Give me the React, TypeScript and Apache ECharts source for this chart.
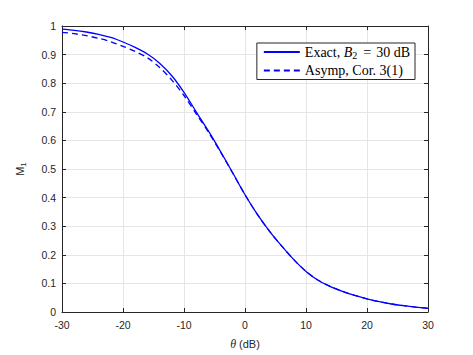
import React, { useEffect, useRef } from "react";
import * as echarts from "echarts";

const thetaDb = [-30, -28, -26, -24, -22, -20, -18, -16, -14, -12, -10, -8, -6, -4, -2, 0, 2, 4, 6, 8, 10, 12, 14, 16, 18, 20, 22, 24, 26, 28, 30];
const exactM1 = [0.989, 0.985, 0.979, 0.971, 0.96, 0.944, 0.925, 0.902, 0.87, 0.826, 0.768, 0.7, 0.633, 0.561, 0.486, 0.41, 0.342, 0.283, 0.231, 0.183, 0.142, 0.111, 0.089, 0.072, 0.058, 0.046, 0.036, 0.028, 0.022, 0.017, 0.013];
const asympM1 = [0.978, 0.973, 0.966, 0.957, 0.945, 0.929, 0.911, 0.889, 0.855, 0.811, 0.757, 0.693, 0.629, 0.559, 0.485, 0.41, 0.342, 0.283, 0.231, 0.183, 0.142, 0.111, 0.089, 0.072, 0.058, 0.046, 0.036, 0.028, 0.022, 0.017, 0.013];
const seriesNames = ["Exact, B2 = 30 dB", "Asymp, Cor. 3(1)"];

const AXIS = "#262626";
const GRID = "#e5e5e5";
const BLUE = "#0000ff";

export default function App() {
  const ref = useRef<HTMLDivElement>(null);
  useEffect(() => {
    if (!ref.current) return;
    const chart = echarts.init(ref.current, undefined, { renderer: "svg" });
    const zip = (ys: number[]) => thetaDb.map((x, i) => [x, ys[i]]);
    const frameAxis = {
      axisLine: { show: true, onZero: false, lineStyle: { color: AXIS, width: 1 } },
      axisTick: { show: true, inside: true, length: 4, lineStyle: { color: AXIS } },
    };
    chart.setOption({
      animation: false,
      backgroundColor: "#ffffff",
      grid: { left: 62, right: 45, top: 26, bottom: 39, containLabel: false },
      legend: {
        orient: "vertical",
        right: 58,
        top: 43,
        backgroundColor: "#ffffff",
        borderColor: AXIS,
        borderWidth: 1,
        borderRadius: 0,
        padding: [2, 5, 2, 6],
        itemGap: 3,
        itemWidth: 36,
        itemHeight: 14,
        itemStyle: { opacity: 0 },
        data: seriesNames,
        formatter: (name: string) =>
          name === seriesNames[0]
            ? "{n|Exact, }{i|B}{s|2}{e|=}{n|30 dB}"
            : "{n|Asymp, Cor. 3(1)}",
        textStyle: {
          fontFamily: "Liberation Serif",
          fontSize: 14,
          color: "#000",
          rich: {
            n: { fontFamily: "Liberation Serif", fontSize: 14, color: "#000" },
            e: { fontFamily: "Liberation Serif", fontSize: 14, color: "#000", padding: [0, 5, 0, 6] },
            i: { fontFamily: "Liberation Serif", fontSize: 14, fontStyle: "italic", color: "#000" },
            s: { fontFamily: "Liberation Serif", fontSize: 10, color: "#000", padding: [7, 0, 0, 0] },
          },
        },
      },
      xAxis: [
        {
          type: "value",
          min: -30,
          max: 30,
          interval: 10,
          position: "bottom",
          name: "{t|θ} (dB)",
          nameLocation: "middle",
          nameGap: 26,
          nameTextStyle: {
            fontFamily: "Liberation Sans",
            fontSize: 11,
            color: AXIS,
            rich: {
              t: { fontFamily: "Liberation Serif", fontStyle: "italic", fontSize: 12, color: AXIS },
            },
          },
          ...frameAxis,
          axisLabel: { fontFamily: "Liberation Sans", fontSize: 10.5, color: AXIS, margin: 7 },
          splitLine: { show: true, lineStyle: { color: GRID, width: 1 } },
        },
        {
          type: "value",
          min: -30,
          max: 30,
          interval: 10,
          position: "top",
          ...frameAxis,
          axisLabel: { show: false },
          splitLine: { show: false },
        },
      ],
      yAxis: [
        {
          type: "value",
          min: 0,
          max: 1,
          interval: 0.1,
          position: "left",
          name: "{m|M}{s|1}",
          nameLocation: "middle",
          nameGap: 35,
          nameRotate: 90,
          nameTextStyle: {
            fontFamily: "Liberation Sans",
            fontSize: 11,
            color: AXIS,
            rich: {
              m: { fontFamily: "Liberation Sans", fontSize: 11, color: AXIS },
              s: { fontFamily: "Liberation Sans", fontSize: 8, color: AXIS, padding: [6, 0, 0, 0] },
            },
          },
          ...frameAxis,
          axisLabel: {
            fontFamily: "Liberation Sans",
            fontSize: 10.5,
            color: AXIS,
            margin: 6,
            formatter: (v: number) => String(Math.round(v * 10) / 10),
          },
          splitLine: { show: true, lineStyle: { color: GRID, width: 1 } },
        },
        {
          type: "value",
          min: 0,
          max: 1,
          interval: 0.1,
          position: "right",
          ...frameAxis,
          axisLabel: { show: false },
          splitLine: { show: false },
        },
      ],
      series: [
        {
          name: seriesNames[0],
          type: "line",
          xAxisIndex: 0,
          yAxisIndex: 0,
          data: zip(exactM1),
          symbol: "none",
          smooth: 0.3,
          lineStyle: { color: BLUE, width: 1.3, type: "solid" },
          itemStyle: { color: BLUE },
          z: 3,
        },
        {
          name: seriesNames[1],
          type: "line",
          xAxisIndex: 0,
          yAxisIndex: 0,
          data: zip(asympM1),
          symbol: "none",
          smooth: 0.3,
          lineStyle: { color: BLUE, width: 1.3, type: [6, 4] },
          itemStyle: { color: BLUE },
          z: 2,
        },
      ],
    });
    return () => chart.dispose();
  }, []);
  return <div ref={ref} style={{ position: "fixed", left: 0, top: 0, width: 473, height: 355 }} />;
}
